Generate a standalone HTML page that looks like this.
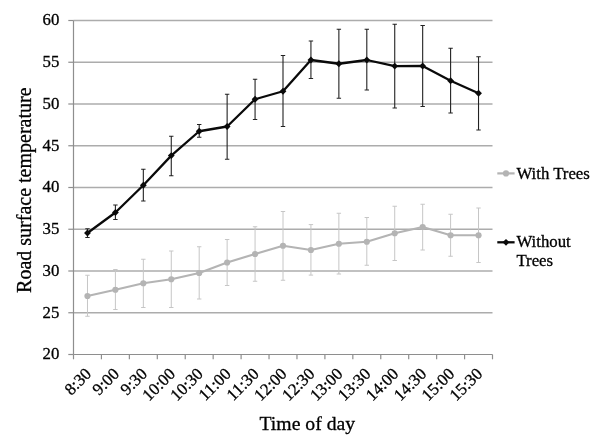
<!DOCTYPE html>
<html><head><meta charset="utf-8"><title>Road surface temperature</title>
<style>
html,body{margin:0;padding:0;background:#fff;}
body{width:604px;height:444px;overflow:hidden;}
svg{display:block;will-change:transform;filter:grayscale(1);}
text{font-family:"Liberation Serif",serif;fill:#000;stroke:#000;stroke-width:0.3px;}
</style></head><body>
<svg width="604" height="444" viewBox="0 0 604 444">
<rect width="604" height="444" fill="#ffffff"/>
<g stroke="#acacac" stroke-width="1.4" fill="none">
<line x1="73.50" y1="20.50" x2="492.50" y2="20.50"/>
<line x1="73.50" y1="62.25" x2="492.50" y2="62.25"/>
<line x1="73.50" y1="104.00" x2="492.50" y2="104.00"/>
<line x1="73.50" y1="145.75" x2="492.50" y2="145.75"/>
<line x1="73.50" y1="187.50" x2="492.50" y2="187.50"/>
<line x1="73.50" y1="229.25" x2="492.50" y2="229.25"/>
<line x1="73.50" y1="271.00" x2="492.50" y2="271.00"/>
<line x1="73.50" y1="312.75" x2="492.50" y2="312.75"/>
</g>
<g stroke="#8e8e8e" stroke-width="1.2" fill="none">
<line x1="73.50" y1="20.50" x2="73.50" y2="354.50"/>
<line x1="73.50" y1="354.50" x2="492.50" y2="354.50"/>
<line x1="68.30" y1="20.50" x2="73.50" y2="20.50"/>
<line x1="68.30" y1="62.25" x2="73.50" y2="62.25"/>
<line x1="68.30" y1="104.00" x2="73.50" y2="104.00"/>
<line x1="68.30" y1="145.75" x2="73.50" y2="145.75"/>
<line x1="68.30" y1="187.50" x2="73.50" y2="187.50"/>
<line x1="68.30" y1="229.25" x2="73.50" y2="229.25"/>
<line x1="68.30" y1="271.00" x2="73.50" y2="271.00"/>
<line x1="68.30" y1="312.75" x2="73.50" y2="312.75"/>
<line x1="68.30" y1="354.50" x2="73.50" y2="354.50"/>
<line x1="73.50" y1="354.50" x2="73.50" y2="359.30"/>
<line x1="101.43" y1="354.50" x2="101.43" y2="359.30"/>
<line x1="129.37" y1="354.50" x2="129.37" y2="359.30"/>
<line x1="157.30" y1="354.50" x2="157.30" y2="359.30"/>
<line x1="185.23" y1="354.50" x2="185.23" y2="359.30"/>
<line x1="213.17" y1="354.50" x2="213.17" y2="359.30"/>
<line x1="241.10" y1="354.50" x2="241.10" y2="359.30"/>
<line x1="269.03" y1="354.50" x2="269.03" y2="359.30"/>
<line x1="296.97" y1="354.50" x2="296.97" y2="359.30"/>
<line x1="324.90" y1="354.50" x2="324.90" y2="359.30"/>
<line x1="352.83" y1="354.50" x2="352.83" y2="359.30"/>
<line x1="380.77" y1="354.50" x2="380.77" y2="359.30"/>
<line x1="408.70" y1="354.50" x2="408.70" y2="359.30"/>
<line x1="436.63" y1="354.50" x2="436.63" y2="359.30"/>
<line x1="464.57" y1="354.50" x2="464.57" y2="359.30"/>
<line x1="492.50" y1="354.50" x2="492.50" y2="359.30"/>
</g>
<g stroke="#c6c6c6" stroke-width="1.0" fill="none">
<path d="M87.47 275.25V316.25M85.27 275.25H89.67M85.27 316.25H89.67"/>
<path d="M115.40 269.50V309.50M113.20 269.50H117.60M113.20 309.50H117.60"/>
<path d="M143.33 259.25V307.50M141.13 259.25H145.53M141.13 307.50H145.53"/>
<path d="M171.27 251.00V307.50M169.07 251.00H173.47M169.07 307.50H173.47"/>
<path d="M199.20 246.75V299.00M197.00 246.75H201.40M197.00 299.00H201.40"/>
<path d="M227.13 239.50V285.50M224.93 239.50H229.33M224.93 285.50H229.33"/>
<path d="M255.07 226.75V281.25M252.87 226.75H257.27M252.87 281.25H257.27"/>
<path d="M283.00 211.50V280.25M280.80 211.50H285.20M280.80 280.25H285.20"/>
<path d="M310.93 224.60V275.10M308.73 224.60H313.13M308.73 275.10H313.13"/>
<path d="M338.87 213.25V274.00M336.67 213.25H341.07M336.67 274.00H341.07"/>
<path d="M366.80 217.50V265.25M364.60 217.50H369.00M364.60 265.25H369.00"/>
<path d="M394.73 206.25V260.50M392.53 206.25H396.93M392.53 260.50H396.93"/>
<path d="M422.67 204.25V250.00M420.47 204.25H424.87M420.47 250.00H424.87"/>
<path d="M450.60 214.25V256.25M448.40 214.25H452.80M448.40 256.25H452.80"/>
<path d="M478.53 208.00V262.50M476.33 208.00H480.73M476.33 262.50H480.73"/>
</g>
<polyline fill="none" stroke="#b4b4b4" stroke-width="2.2" stroke-linejoin="round" points="87.47,296.00 115.40,289.75 143.33,283.25 171.27,279.25 199.20,273.00 227.13,262.50 255.07,254.00 283.00,245.75 310.93,250.00 338.87,243.75 366.80,241.75 394.73,233.25 422.67,227.00 450.60,235.25 478.53,235.25"/>
<g fill="#b4b4b4">
<circle cx="87.47" cy="296.00" r="3.1"/>
<circle cx="115.40" cy="289.75" r="3.1"/>
<circle cx="143.33" cy="283.25" r="3.1"/>
<circle cx="171.27" cy="279.25" r="3.1"/>
<circle cx="199.20" cy="273.00" r="3.1"/>
<circle cx="227.13" cy="262.50" r="3.1"/>
<circle cx="255.07" cy="254.00" r="3.1"/>
<circle cx="283.00" cy="245.75" r="3.1"/>
<circle cx="310.93" cy="250.00" r="3.1"/>
<circle cx="338.87" cy="243.75" r="3.1"/>
<circle cx="366.80" cy="241.75" r="3.1"/>
<circle cx="394.73" cy="233.25" r="3.1"/>
<circle cx="422.67" cy="227.00" r="3.1"/>
<circle cx="450.60" cy="235.25" r="3.1"/>
<circle cx="478.53" cy="235.25" r="3.1"/>
</g>
<g stroke="#222222" stroke-width="1.1" fill="none">
<path d="M87.47 228.75V237.50M85.27 228.75H89.67M85.27 237.50H89.67"/>
<path d="M115.40 205.00V219.50M113.20 205.00H117.60M113.20 219.50H117.60"/>
<path d="M143.33 169.25V201.00M141.13 169.25H145.53M141.13 201.00H145.53"/>
<path d="M171.27 136.25V175.75M169.07 136.25H173.47M169.07 175.75H173.47"/>
<path d="M199.20 124.50V137.25M197.00 124.50H201.40M197.00 137.25H201.40"/>
<path d="M227.13 94.25V159.25M224.93 94.25H229.33M224.93 159.25H229.33"/>
<path d="M255.07 79.25V119.50M252.87 79.25H257.27M252.87 119.50H257.27"/>
<path d="M283.00 55.50V126.50M280.80 55.50H285.20M280.80 126.50H285.20"/>
<path d="M310.93 41.00V78.50M308.73 41.00H313.13M308.73 78.50H313.13"/>
<path d="M338.87 29.25V98.25M336.67 29.25H341.07M336.67 98.25H341.07"/>
<path d="M366.80 29.25V90.00M364.60 29.25H369.00M364.60 90.00H369.00"/>
<path d="M394.73 24.25V108.00M392.53 24.25H396.93M392.53 108.00H396.93"/>
<path d="M422.67 25.50V106.50M420.47 25.50H424.87M420.47 106.50H424.87"/>
<path d="M450.60 48.25V113.00M448.40 48.25H452.80M448.40 113.00H452.80"/>
<path d="M478.53 56.75V130.00M476.33 56.75H480.73M476.33 130.00H480.73"/>
</g>
<polyline fill="none" stroke="#0a0a0a" stroke-width="2.3" stroke-linejoin="round" points="87.47,233.00 115.40,212.50 143.33,185.25 171.27,155.60 199.20,131.25 227.13,126.50 255.07,99.25 283.00,91.25 310.93,60.00 338.87,63.75 366.80,60.00 394.73,66.10 422.67,66.00 450.60,80.75 478.53,93.25"/>
<g fill="#0a0a0a">
<path d="M84.07 233.00L87.47 229.60L90.87 233.00L87.47 236.40Z"/>
<path d="M112.00 212.50L115.40 209.10L118.80 212.50L115.40 215.90Z"/>
<path d="M139.93 185.25L143.33 181.85L146.73 185.25L143.33 188.65Z"/>
<path d="M167.87 155.60L171.27 152.20L174.67 155.60L171.27 159.00Z"/>
<path d="M195.80 131.25L199.20 127.85L202.60 131.25L199.20 134.65Z"/>
<path d="M223.73 126.50L227.13 123.10L230.53 126.50L227.13 129.90Z"/>
<path d="M251.67 99.25L255.07 95.85L258.47 99.25L255.07 102.65Z"/>
<path d="M279.60 91.25L283.00 87.85L286.40 91.25L283.00 94.65Z"/>
<path d="M307.53 60.00L310.93 56.60L314.33 60.00L310.93 63.40Z"/>
<path d="M335.47 63.75L338.87 60.35L342.27 63.75L338.87 67.15Z"/>
<path d="M363.40 60.00L366.80 56.60L370.20 60.00L366.80 63.40Z"/>
<path d="M391.33 66.10L394.73 62.70L398.13 66.10L394.73 69.50Z"/>
<path d="M419.27 66.00L422.67 62.60L426.07 66.00L422.67 69.40Z"/>
<path d="M447.20 80.75L450.60 77.35L454.00 80.75L450.60 84.15Z"/>
<path d="M475.13 93.25L478.53 89.85L481.93 93.25L478.53 96.65Z"/>
</g>
<g font-size="16.8" text-anchor="end">
<text x="59.4" y="25.30">60</text>
<text x="59.4" y="67.05">55</text>
<text x="59.4" y="108.80">50</text>
<text x="59.4" y="150.55">45</text>
<text x="59.4" y="192.30">40</text>
<text x="59.4" y="234.05">35</text>
<text x="59.4" y="275.80">30</text>
<text x="59.4" y="317.55">25</text>
<text x="59.4" y="359.30">20</text>
</g>
<g font-size="16.8" text-anchor="end">
<text transform="translate(92.27 374.8) rotate(-45)">8:30</text>
<text transform="translate(120.20 374.8) rotate(-45)">9:00</text>
<text transform="translate(148.13 374.8) rotate(-45)">9:30</text>
<text transform="translate(176.07 374.8) rotate(-45)">10:00</text>
<text transform="translate(204.00 374.8) rotate(-45)">10:30</text>
<text transform="translate(231.93 374.8) rotate(-45)">11:00</text>
<text transform="translate(259.87 374.8) rotate(-45)">11:30</text>
<text transform="translate(287.80 374.8) rotate(-45)">12:00</text>
<text transform="translate(315.73 374.8) rotate(-45)">12:30</text>
<text transform="translate(343.67 374.8) rotate(-45)">13:00</text>
<text transform="translate(371.60 374.8) rotate(-45)">13:30</text>
<text transform="translate(399.53 374.8) rotate(-45)">14:00</text>
<text transform="translate(427.47 374.8) rotate(-45)">14:30</text>
<text transform="translate(455.40 374.8) rotate(-45)">15:00</text>
<text transform="translate(483.33 374.8) rotate(-45)">15:30</text>
</g>
<text font-size="19.7" text-anchor="middle" x="307.3" y="430.2">Time of day</text>
<text font-size="20" text-anchor="middle" transform="translate(30.9 190.2) rotate(-90)">Road surface temperature</text>
<line x1="497.3" y1="173.4" x2="514.6" y2="173.4" stroke="#b4b4b4" stroke-width="2.2"/>
<circle cx="506" cy="173.4" r="3.1" fill="#b4b4b4"/>
<text font-size="16.8" x="516.4" y="178.7">With Trees</text>
<line x1="497.3" y1="242.3" x2="514.6" y2="242.3" stroke="#0a0a0a" stroke-width="2.3"/>
<g fill="#0a0a0a"><path d="M502.60 242.30L506.00 238.90L509.40 242.30L506.00 245.70Z"/>
</g>
<text font-size="16.8" x="516.4" y="246.9">Without</text>
<text font-size="16.8" x="516.4" y="266.3">Trees</text>
</svg>
</body></html>
